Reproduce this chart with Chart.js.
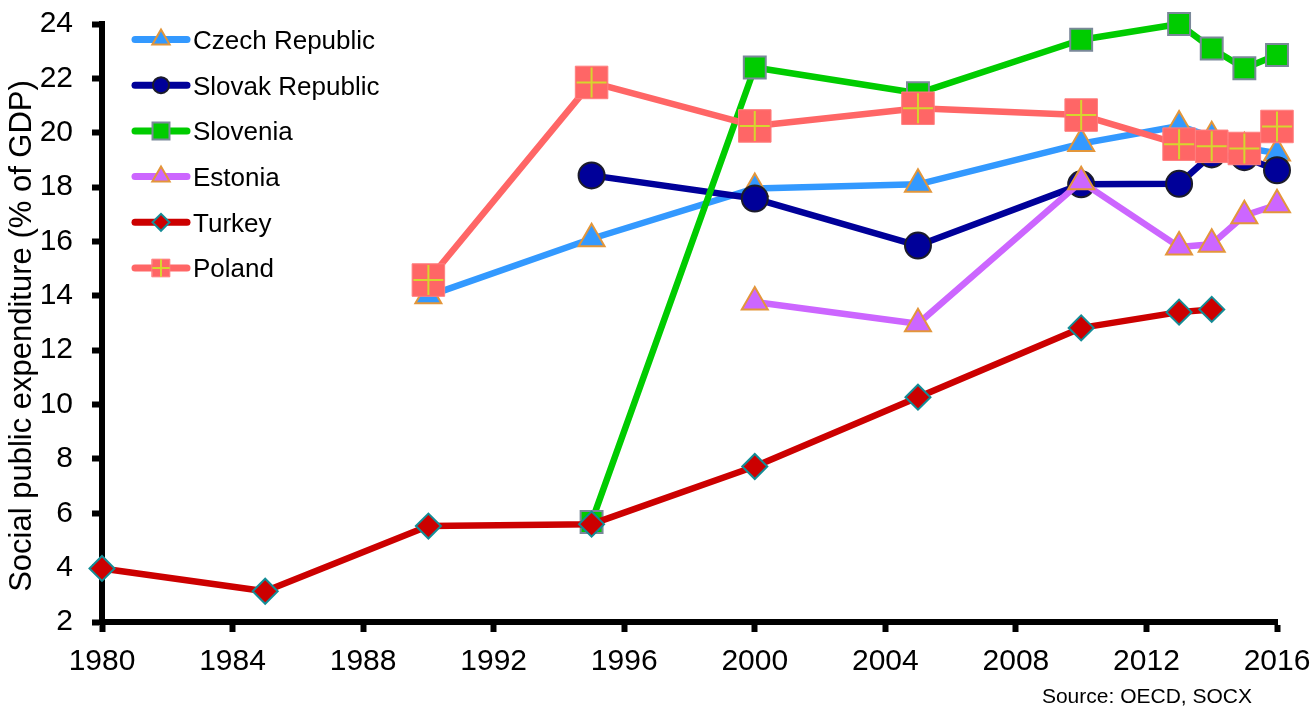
<!DOCTYPE html>
<html>
<head>
<meta charset="utf-8">
<title>Social public expenditure</title>
<script src="https://cdn.jsdelivr.net/npm/chart.js@4/dist/chart.umd.min.js"></script>
<style>
  html, body { margin: 0; padding: 0; background: #ffffff; }
  #wrap { width: 1316px; height: 713px; }
</style>
</head>
<body>
<div id="wrap"><canvas id="chart" width="1316" height="713"></canvas></div>
<script>
// Survey years
const years = [1980, 1985, 1990, 1995, 2000, 2005, 2010, 2013, 2014, 2015, 2016];

// Social public expenditure, % of GDP (null = no observation)
const czechRepublic  = [null, null, 14.0, 16.1, 17.95, 18.1, 19.6, 20.25, 19.85, 19.45, 19.25];
const slovakRepublic = [null, null, null, 18.43, 17.58, 15.85, 18.1, 18.12, 19.2, 19.1, 18.62];
const slovenia       = [null, null, null, 5.68, 22.4, 21.45, 23.42, 24.0, 23.1, 22.37, 22.86];
const estonia        = [null, null, null, null, 13.77, 12.97, 18.2, 15.8, 15.9, 16.95, 17.35];
const turkey         = [3.97, 3.13, 5.53, 5.6, 7.72, 10.27, 12.82, 13.4, 13.5, null, null];
const poland         = [null, null, 14.58, 21.85, 20.25, 20.9, 20.65, 19.58, 19.5, 19.42, 20.23];

// Axis tick labels
const xTicks = [1980, 1984, 1988, 1992, 1996, 2000, 2004, 2008, 2012, 2016];
const yTicks = [2, 4, 6, 8, 10, 12, 14, 16, 18, 20, 22, 24];

const yTitle = 'Social public expenditure (% of GDP)';
const sourceNote = 'Source: OECD, SOCX';

const FONT = "'Liberation Sans', Arial, Helvetica, sans-serif";

function points(values) {
  const out = [];
  values.forEach((v, i) => { if (v !== null) out.push({ x: years[i], y: v }); });
  return out;
}

function series(label, values, style) {
  return Object.assign({
    label: label,
    data: points(values),
    borderWidth: 6.5,
    borderCapStyle: 'round',
    borderJoinStyle: 'round',
    tension: 0,
    pointBorderWidth: 2,
    clip: false
  }, style);
}

const datasets = [
  series('Czech Republic', czechRepublic, {
    borderColor: '#3399ff', backgroundColor: '#3399ff',
    pointStyle: 'triangle', pointRadius: 15,
    pointBackgroundColor: '#3399ff', pointBorderColor: '#e3963a',
    order: 6, legendRadius: 10
  }),
  series('Slovak Republic', slovakRepublic, {
    borderColor: '#000099', backgroundColor: '#000099',
    pointStyle: 'circle', pointRadius: 13,
    pointBackgroundColor: '#000099', pointBorderColor: '#1c1c2a',
    order: 5, legendRadius: 8
  }),
  series('Slovenia', slovenia, {
    borderColor: '#00cc00', backgroundColor: '#00cc00',
    pointStyle: 'rect', pointRadius: 15.5,
    pointBackgroundColor: '#00cc00', pointBorderColor: '#7a8899',
    order: 4, legendRadius: 12
  }),
  series('Estonia', estonia, {
    borderColor: '#cc66ff', backgroundColor: '#cc66ff',
    pointStyle: 'triangle', pointRadius: 15,
    pointBackgroundColor: '#cc66ff', pointBorderColor: '#e3963a',
    order: 3, legendRadius: 10
  }),
  series('Turkey', turkey, {
    borderColor: '#cc0000', backgroundColor: '#cc0000',
    pointStyle: 'rectRot', pointRadius: 12.5,
    pointBackgroundColor: '#cc0000', pointBorderColor: '#138c96',
    order: 2, legendRadius: 8.5
  }),
  series('Poland', poland, {
    borderColor: '#ff6666', backgroundColor: '#ff6666',
    pointStyle: 'rect', pointRadius: 23,
    pointBackgroundColor: '#ff6666', pointBorderColor: '#ff7f7f',
    pointBorderWidth: 1,
    order: 1, legendRadius: 12.5, legendCross: 8
  }),
  // yellow "+" drawn over the Poland markers
  {
    label: 'Poland cross',
    data: points(poland),
    showLine: false,
    pointStyle: 'cross',
    pointRadius: 15,
    pointBorderWidth: 2,
    pointBorderColor: '#d6d62e',
    borderColor: '#d6d62e',
    order: 0,
    clip: false,
    helper: true
  }
];

// Legend drawn inside the plot area, with a line sample and marker per series
const insideLegend = {
  id: 'insideLegend',
  afterDraw(chart) {
    const ctx = chart.ctx;
    const x0 = 135, x1 = 187, mx = 161, tx = 193;
    let row = 0;
    chart.data.datasets.forEach(ds => {
      if (ds.helper) return;
      const y = 39.5 + row * 45.7;
      ctx.save();
      ctx.strokeStyle = ds.borderColor;
      ctx.lineWidth = 7;
      ctx.lineCap = 'round';
      ctx.beginPath();
      ctx.moveTo(x0, y);
      ctx.lineTo(x1, y);
      ctx.stroke();
      ctx.fillStyle = ds.pointBackgroundColor;
      ctx.strokeStyle = ds.pointBorderColor;
      ctx.lineWidth = ds.pointBorderWidth;
      Chart.helpers.drawPoint(ctx, {
        pointStyle: ds.pointStyle, rotation: 0,
        radius: ds.legendRadius, borderWidth: ds.pointBorderWidth
      }, mx, y);
      if (ds.legendCross) {
        ctx.strokeStyle = '#d6d62e';
        ctx.lineWidth = 2;
        Chart.helpers.drawPoint(ctx, {
          pointStyle: 'cross', rotation: 0,
          radius: ds.legendCross, borderWidth: 2
        }, mx, y);
      }
      ctx.fillStyle = '#000000';
      ctx.font = '26px ' + FONT;
      ctx.textAlign = 'left';
      ctx.textBaseline = 'alphabetic';
      ctx.fillText(ds.label, tx, y + 9.3);
      ctx.restore();
      row++;
    });

    // vertical axis title
    ctx.save();
    ctx.translate(22, 336);
    ctx.rotate(-Math.PI / 2);
    ctx.fillStyle = '#000000';
    ctx.font = '31px ' + FONT;
    ctx.textAlign = 'center';
    ctx.textBaseline = 'middle';
    ctx.fillText(yTitle, 0, 0);
    ctx.restore();

    // source note
    ctx.save();
    ctx.fillStyle = '#000000';
    ctx.font = '21px ' + FONT;
    ctx.textAlign = 'right';
    ctx.textBaseline = 'middle';
    ctx.fillText(sourceNote, 1252, 697);
    ctx.restore();
  }
};

const axisLine = { display: true, color: '#000000', width: 6 };
const axisGrid = {
  display: true, drawOnChartArea: false, drawTicks: true,
  tickLength: 10, tickWidth: 6, tickColor: '#000000', color: '#000000'
};

new Chart(document.getElementById('chart'), {
  type: 'line',
  data: { datasets: datasets },
  options: {
    responsive: false,
    animation: false,
    events: [],
    layout: { padding: { left: 0, right: 39, top: 18, bottom: 0 } },
    plugins: {
      legend: { display: false },
      tooltip: { enabled: false },
      title: { display: false }
    },
    scales: {
      x: {
        type: 'linear',
        min: 1980, max: 2016,
        border: axisLine,
        grid: axisGrid,
        afterBuildTicks(scale) { scale.ticks = xTicks.map(v => ({ value: v })); },
        afterFit(scale) {
          scale.height = 91;
          scale.paddingLeft = 0;
          scale.paddingRight = 0;
        },
        ticks: {
          color: '#000000',
          padding: 12,
          maxRotation: 0,
          autoSkip: false,
          font: { family: FONT, size: 30 },
          callback: v => String(v)
        }
      },
      y: {
        type: 'linear',
        min: 2, max: 24,
        border: axisLine,
        grid: axisGrid,
        afterBuildTicks(scale) { scale.ticks = yTicks.map(v => ({ value: v })); },
        afterFit(scale) {
          scale.width = 102;
          scale.paddingTop = 0;
          scale.paddingBottom = 0;
        },
        ticks: {
          color: '#000000',
          padding: 19,
          autoSkip: false,
          font: { family: FONT, size: 30 },
          callback: v => String(v)
        }
      }
    }
  },
  plugins: [insideLegend]
});
</script>
</body>
</html>
